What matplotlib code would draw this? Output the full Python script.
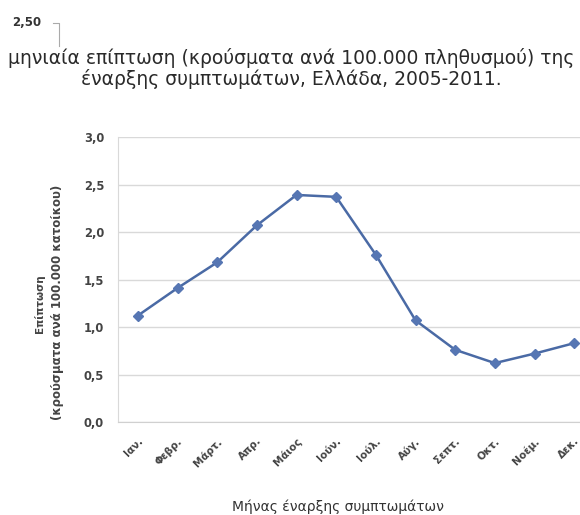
import matplotlib
matplotlib.use("Agg")
import matplotlib.pyplot as plt
from matplotlib.lines import Line2D
from matplotlib.ticker import FuncFormatter

plt.rcParams['font.family'] = ['DejaVu Sans']

months = ['Ιαν.', 'Φεβρ.', 'Μάρτ.', 'Απρ.', 'Μάιος', 'Ιούν.',
          'Ιούλ.', 'Αύγ.', 'Σεπτ.', 'Οκτ.', 'Νοέμ.', 'Δεκ.']
incidence = [1.12, 1.41, 1.68, 2.07, 2.39, 2.37,
             1.76, 1.07, 0.76, 0.62, 0.72, 0.83]
y_ticks = [0.0, 0.5, 1.0, 1.5, 2.0, 2.5, 3.0]

title_lines = ['μηνιαία επίπτωση (κρούσματα ανά 100.000 πληθυσμού) της',
               'έναρξης συμπτωμάτων, Ελλάδα, 2005-2011.']

W, H = 580, 515
fig = plt.figure(figsize=(W / 100, H / 100), dpi=100)

def fx(px):
    return px / W

def fy(py):
    return 1 - py / H

ax = fig.add_axes([fx(118), fy(422), fx(594) - fx(118), fy(137) - fy(422)])
x = list(range(len(months)))
ax.plot(x, incidence, color='#4A6AA5', lw=1.8, marker='D', ms=5.5,
        markerfacecolor='#5676B3', markeredgecolor='#5676B3', zorder=3,
        clip_on=False)
ax.set_xlim(-0.5, len(months) - 0.5)
ax.set_ylim(0, 3.0)
ax.set_yticks(y_ticks)
ax.yaxis.set_major_formatter(FuncFormatter(lambda v, p: f'{v:.1f}'.replace('.', ',')))
ax.grid(axis='y', color='#D9D9D9', lw=1.0)
ax.set_axisbelow(True)
for s in ['top', 'right']:
    ax.spines[s].set_visible(False)
ax.spines['left'].set_color('#D9D9D9')
ax.spines['bottom'].set_color('#D0D0D0')
ax.tick_params(length=0, colors='#444444')
ax.tick_params(axis='y', pad=10, labelsize=8.3)
ax.set_xticks(x)
ax.set_xticklabels(months, rotation=45, ha='right', rotation_mode='anchor',
                   fontsize=7.5, fontweight='bold', color='#444444')
ax.tick_params(axis='x', pad=10)
for lab in ax.get_yticklabels():
    lab.set_fontweight('bold')

# y-axis title (two lines)
fig.text(fx(39), fy(304), 'Επίπτωση', rotation=90, ha='center', va='center',
         fontsize=7.5, fontweight='bold', color='#444444')
fig.text(fx(58), fy(302), '(κρούσματα ανά 100.000 κατοίκου)', rotation=90,
         ha='center', va='center', fontsize=8.5, fontweight='bold', color='#444444')

# x-axis title
fig.text(fx(338), fy(507), 'Μήνας έναρξης συμπτωμάτων', ha='center', va='center',
         fontsize=10, color='#333333')

# chart title
fig.text(fx(291), fy(58), title_lines[0], ha='center', va='center',
         fontsize=13.5, color='#2A2A2A')
fig.text(fx(291), fy(79), title_lines[1], ha='center', va='center',
         fontsize=13.5, color='#2A2A2A')

# fragment of neighbouring axis at the top
fig.text(fx(12), fy(23), '2,50', ha='left', va='center', fontsize=8.5,
         fontweight='bold', color='#333333')
fig.add_artist(Line2D([fx(53), fx(59), fx(59)], [fy(23), fy(23), fy(46)],
                      color='#AAAAAA', lw=0.8, transform=fig.transFigure))

fig.savefig('out.png', dpi=100, facecolor='white')
